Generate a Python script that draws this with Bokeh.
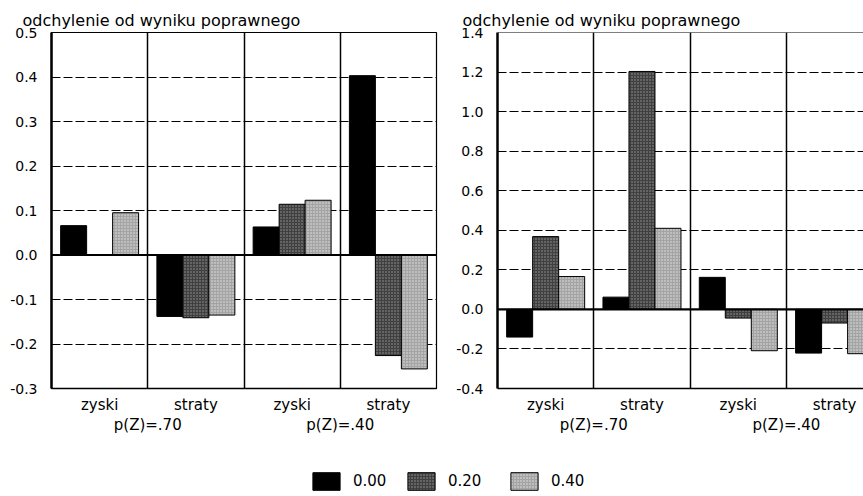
from bokeh.plotting import figure
from bokeh.layouts import row, column
from bokeh.models import (FixedTicker, PrintfTickFormatter, CustomJSTickFormatter,
                          LinearAxis, Span, Legend, LegendItem, ColumnDataSource)
from bokeh.embed import file_html
from bokeh.resources import INLINE

# ---------------- data ----------------
groups = ["zyski", "straty", "zyski", "straty"]
conditions = ["p(Z)=.70", "p(Z)=.40"]
series = ["0.00", "0.20", "0.40"]

left_000 = [0.066, -0.138, 0.063, 0.403]
left_020 = [0.0, -0.141, 0.114, -0.226]
left_040 = [0.095, -0.135, 0.123, -0.256]

right_000 = [-0.140, 0.062, 0.162, -0.221]
right_020 = [0.368, 1.203, -0.044, -0.069]
right_040 = [0.166, 0.410, -0.209, -0.224]

left_yticks = [-0.3, -0.2, -0.1, 0.0, 0.1, 0.2, 0.3, 0.4, 0.5]
right_yticks = [-0.4, -0.2, 0.0, 0.2, 0.4, 0.6, 0.8, 1.0, 1.2, 1.4]

y_title = "odchylenie od wyniku poprawnego"

# ---------------- styles ----------------
FONT = "DejaVu Sans"
BAR_W = 0.27
OFFSETS = [-0.27, 0.0, 0.27]
STYLES = [
    dict(fill_color="#000000", line_color="black", line_width=1),
    dict(fill_color="#404040", line_color="black", line_width=1,
         hatch_pattern="dot", hatch_color="#9a9a9a", hatch_scale=3, hatch_weight=1),
    dict(fill_color="#a4a4a4", line_color="black", line_width=1,
         hatch_pattern="dot", hatch_color="#e6e6e6", hatch_scale=3, hatch_weight=1),
]
LEGEND_X = [309, 404, 507]


def make_panel(values, yticks, width, border_left, border_right, x_end, title_offset, outline):
    n = len(groups)
    p = figure(width=width, height=440, x_range=(0, x_end),
               y_range=(yticks[0], yticks[-1]),
               output_backend="svg", toolbar_location=None,
               min_border_left=border_left, min_border_right=border_right,
               min_border_top=32, min_border_bottom=52)
    p.title.text = y_title
    p.title.text_font = FONT
    p.title.text_font_size = "16px"
    p.title.text_font_style = "normal"
    p.title.text_color = "black"
    p.title.offset = title_offset
    p.title.standoff = 5

    for k, vals in enumerate(values):
        xs = [i + 0.5 + OFFSETS[k] for i in range(n)]
        src = ColumnDataSource(dict(x=xs, top=vals))
        p.vbar(x="x", top="top", bottom=0, width=BAR_W, source=src, **STYLES[k])

    # y axis
    p.yaxis.ticker = FixedTicker(ticks=yticks)
    p.yaxis.formatter = PrintfTickFormatter(format="%.1f")
    p.yaxis.axis_line_width = 2.5
    p.yaxis.axis_line_color = "black"
    p.yaxis.major_tick_line_color = None
    p.yaxis.minor_tick_line_color = None
    p.yaxis.major_label_text_font = FONT
    p.yaxis.major_label_text_font_size = "14px"
    p.yaxis.major_label_text_color = "black"
    p.yaxis.major_label_standoff = 8

    # x axis: group labels
    p.xaxis.ticker = FixedTicker(ticks=[i + 0.5 for i in range(n)])
    p.xaxis.formatter = CustomJSTickFormatter(args=dict(labels=groups),
                                              code="return labels[Math.floor(tick)] || '';")
    p.xaxis.axis_line_width = 1.5
    p.xaxis.axis_line_color = "black"
    p.xaxis.major_tick_line_color = None
    p.xaxis.minor_tick_line_color = None
    p.xaxis.major_label_text_font = FONT
    p.xaxis.major_label_text_font_size = "15px"
    p.xaxis.major_label_text_color = "black"
    p.xaxis.major_label_standoff = 1

    cond_axis = LinearAxis(ticker=FixedTicker(ticks=[2 * j + 1 for j in range(len(conditions))]),
                           formatter=CustomJSTickFormatter(args=dict(labels=conditions),
                                                           code="return labels[Math.round((tick - 1) / 2)] || '';"),
                           axis_line_color=None, major_tick_line_color=None,
                           minor_tick_line_color=None,
                           major_label_text_font=FONT, major_label_text_font_size="15px",
                           major_label_text_color="black", major_label_standoff=-7)
    p.add_layout(cond_axis, "below")

    # grids
    p.ygrid.ticker = FixedTicker(ticks=yticks)
    p.ygrid.grid_line_color = "black"
    p.ygrid.grid_line_dash = "9 3"
    p.ygrid.grid_line_width = 1
    p.xgrid.ticker = FixedTicker(ticks=list(range(1, n)))
    p.xgrid.grid_line_color = "black"
    p.xgrid.grid_line_dash = "solid"
    p.xgrid.grid_line_width = 1.5

    p.add_layout(Span(location=0, dimension="width", line_color="black", line_width=2.2))

    if outline:
        p.outline_line_color = "black"
        p.outline_line_width = 1.2
    else:
        p.outline_line_color = None
        p.add_layout(Span(location=yticks[-1], dimension="width", line_color="black", line_width=1.2))
    p.background_fill_color = "white"
    p.border_fill_color = "white"
    return p


p1 = make_panel([left_000, left_020, left_040], left_yticks, 450, 51, 14, 4, -29, True)
p2 = make_panel([right_000, right_020, right_040], right_yticks, 413, 47, 0, 3.80, -35, False)

# legend strip
p3 = figure(width=863, height=54, x_range=(0, 1), y_range=(0, 1),
            x_axis_type=None, y_axis_type=None, output_backend="svg",
            toolbar_location=None, min_border=0, outline_line_color=None)
p3.xgrid.visible = False
p3.ygrid.visible = False
for k, s in enumerate(series):
    r = p3.vbar(x=[0.5], top=[0.5], bottom=0.4, width=0.01, **STYLES[k])
    r.visible = False
    lg = Legend(items=[LegendItem(label=s, renderers=[r])], orientation="horizontal",
                location=(LEGEND_X[k], 2),
                glyph_width=34, glyph_height=22, label_standoff=10, spacing=0,
                padding=0, margin=0, border_line_color=None, background_fill_alpha=0,
                label_text_font=FONT, label_text_font_size="15px", label_text_color="black")
    p3.add_layout(lg)

layout = column(row(p1, p2), p3)
open("out.html", "w").write(file_html(layout, INLINE))
